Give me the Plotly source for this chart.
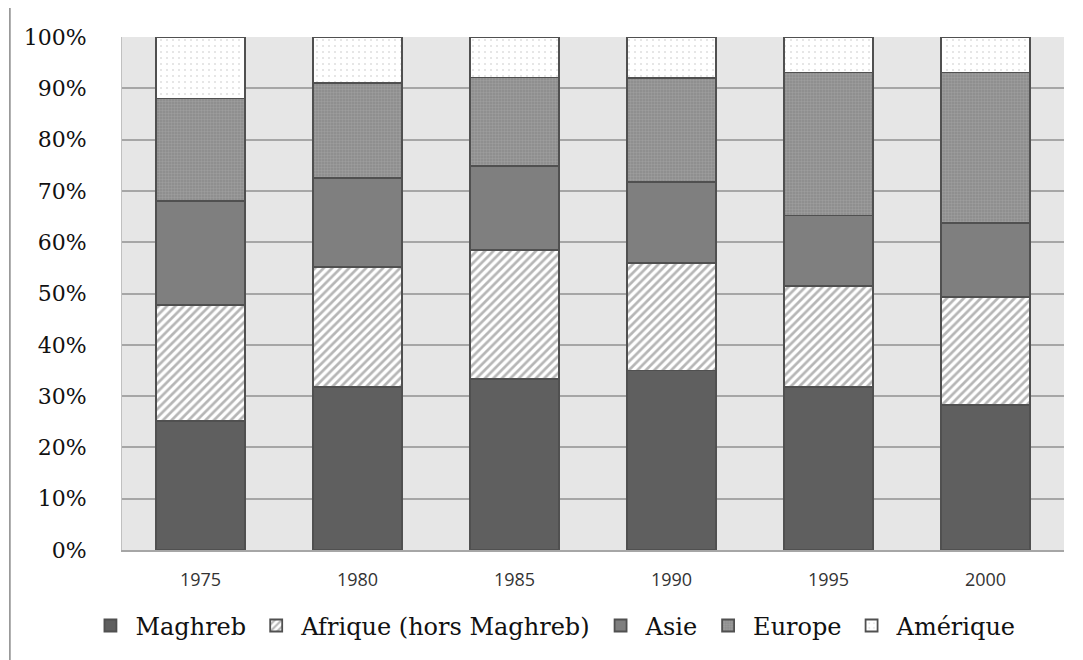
import plotly.graph_objects as go

# Share of each origin region per year (in %)
years = ["1975", "1980", "1985", "1990", "1995", "2000"]
maghreb = [25.1, 31.7, 33.4, 35.0, 31.8, 28.2]
afrique = [22.7, 23.4, 25.1, 20.9, 19.6, 21.1]
asie = [20.2, 17.4, 16.3, 15.9, 13.8, 14.4]
europe = [20.0, 18.5, 17.3, 20.2, 27.9, 29.4]
amerique = [12.0, 9.0, 7.9, 8.0, 6.9, 6.9]
y_ticks = [0, 10, 20, 30, 40, 50, 60, 70, 80, 90, 100]
y_labels = [f"{v}%" for v in y_ticks]

serif = "DejaVu Serif, Liberation Serif, serif"
outline = dict(color="#505050", width=1.8)

series = [
    ("Maghreb", maghreb, dict(color="#5f5f5f")),
    ("Afrique (hors Maghreb)", afrique,
     dict(color="white", pattern=dict(shape="/", fgcolor="#6e6e6e", bgcolor="white",
                                      size=6, solidity=0.45))),
    ("Asie", asie, dict(color="#7f7f7f")),
    ("Europe", europe,
     dict(color="#9a9a9a", pattern=dict(shape=".", fgcolor="#b0b0b0", bgcolor="#8a8a8a",
                                        size=3, solidity=0.5))),
    ("Amérique", amerique,
     dict(color="white", pattern=dict(shape=".", fgcolor="#8c8c8c", bgcolor="white",
                                      size=6, solidity=0.06))),
]

fig = go.Figure()
for name, vals, marker in series:
    fig.add_trace(go.Bar(x=years, y=vals, name=name,
                         marker=dict(line=outline, **marker)))

# page body has an 8px margin, so the figure is shrunk and shifted to compensate
fig.update_layout(
    barmode="stack",
    bargap=0.43,
    width=1075,
    height=652,
    margin=dict(l=114, r=19, t=29, b=108),
    paper_bgcolor="white",
    plot_bgcolor="#e6e6e6",
    font=dict(family=serif, size=22, color="#111111"),
    legend=dict(orientation="h", traceorder="normal", itemwidth=40,
                x=0.458, xanchor="center", y=-0.148, yanchor="middle",
                font=dict(family=serif, size=24, color="#111111")),
    showlegend=True,
)

fig.update_yaxes(
    range=[0, 100],
    tickmode="array",
    tickvals=y_ticks,
    ticktext=y_labels,
    tickfont=dict(family=serif, size=22, color="#111111"),
    gridcolor="#a6a6a6",
    gridwidth=1.5,
    zeroline=False,
    showline=True,
    linecolor="#c0c0c0",
    ticklabelstandoff=30,
)
fig.update_xaxes(
    type="category",
    tickfont=dict(family="Open Sans, Liberation Sans, sans-serif", size=18, color="#333333"),
    showline=True,
    linecolor="#a6a6a6",
    linewidth=1.5,
    ticklabelstandoff=13,
)

# thin vertical rule at the left edge of the figure
fig.add_shape(type="line", xref="paper", yref="paper", x0=-0.119, x1=-0.119,
              y0=-0.22, y1=1.072, line=dict(color="#888888", width=1.5))

fig.write_html("out.html")
